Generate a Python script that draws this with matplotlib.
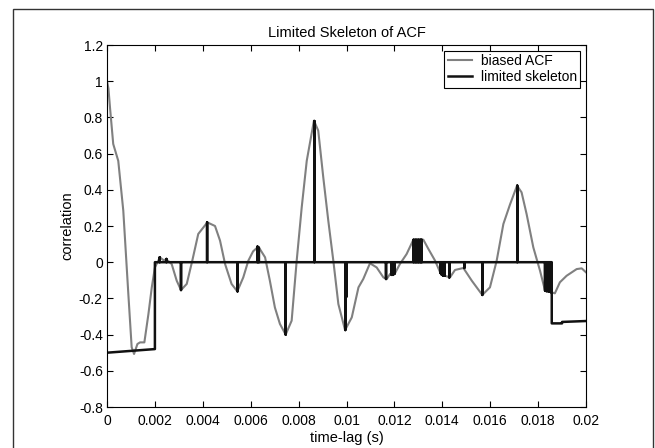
import numpy as np
import matplotlib
matplotlib.use("Agg")
from matplotlib import pyplot as plt
from matplotlib.patches import Rectangle
from matplotlib.ticker import FuncFormatter

plt.rcParams['font.family'] = ['Liberation Sans', 'DejaVu Sans']

# biased ACF
acf_lag = [0.0, 0.00006, 0.000125, 0.00026, 0.00047, 0.00068, 0.00089, 0.00103, 0.00113,
           0.00127, 0.00138, 0.00156, 0.00173, 0.00187, 0.0020, 0.00221, 0.00235, 0.00249,
           0.0027, 0.00291, 0.00309, 0.00333, 0.00356, 0.00381, 0.00419, 0.00451, 0.00472,
           0.00493, 0.0052, 0.00544, 0.00569, 0.0059, 0.0061, 0.00632, 0.0066, 0.0068,
           0.00701, 0.00722, 0.00746, 0.00771, 0.00792, 0.00813, 0.00834, 0.00864, 0.00882,
           0.00903, 0.00924, 0.00945, 0.00966, 0.00994, 0.01022, 0.0105, 0.0107, 0.01098,
           0.01126, 0.01154, 0.01168, 0.01182, 0.01196, 0.01203, 0.01223, 0.01251, 0.01279,
           0.01321, 0.01342, 0.0137, 0.01391, 0.01411, 0.01432, 0.01453, 0.01488, 0.01523,
           0.01567, 0.01599, 0.01627, 0.01655, 0.01683, 0.01712, 0.01731, 0.01752, 0.0178,
           0.01808, 0.01829, 0.01857, 0.0187, 0.01891, 0.01919, 0.01961, 0.01982, 0.02]
acf_val = [1.0, 0.96, 0.855, 0.653, 0.56, 0.285, -0.174, -0.47, -0.507,
           -0.452, -0.443, -0.443, -0.286, -0.139, -0.029, 0.027, 0.012, 0.014,
           -0.01, -0.102, -0.154, -0.12, 0.008, 0.156, 0.22, 0.2, 0.119,
           -0.01, -0.12, -0.161, -0.084, 0.008, 0.06, 0.086, 0.027, -0.102,
           -0.25, -0.341, -0.4, -0.323, 0.008, 0.303, 0.56, 0.782, 0.727,
           0.469, 0.229, 0.008, -0.231, -0.375, -0.305, -0.139, -0.093, -0.006,
           -0.029, -0.084, -0.093, -0.065, -0.06, -0.06, -0.01, 0.045, 0.124,
           0.124, 0.073, 0.008, -0.056, -0.075, -0.084, -0.043, -0.032, -0.102,
           -0.181, -0.139, 0.008, 0.211, 0.32, 0.423, 0.386, 0.266, 0.082,
           -0.047, -0.157, -0.167, -0.172, -0.111, -0.075, -0.038, -0.034, -0.056]

# limited skeleton: flat start, spikes from zero, flat tail
skel_start_lag = [0.0, 0.002]
skel_start_val = [-0.5, -0.48]
spike_lag = [0.0022, 0.00248, 0.00309, 0.00418, 0.00545, 0.00628, 0.00634, 0.00746,
             0.00866, 0.00995, 0.0100, 0.01165, 0.01188, 0.01194, 0.0120,
             0.0128, 0.01287, 0.01294, 0.01301, 0.01308, 0.01314,
             0.01392, 0.01398, 0.01404, 0.0141, 0.01429, 0.01492, 0.01567, 0.01713,
             0.01829, 0.01835, 0.01841, 0.01847, 0.01853]
spike_val = [0.027, 0.018, -0.154, 0.22, -0.161, 0.086, 0.08, -0.40,
             0.78, -0.375, -0.19, -0.093, -0.07, -0.07, -0.065,
             0.124, 0.124, 0.124, 0.124, 0.124, 0.124,
             -0.06, -0.07, -0.075, -0.075, -0.084, -0.032, -0.181, 0.423,
             -0.157, -0.16, -0.16, -0.162, -0.165]
skel_end_lag = [0.01857, 0.0190, 0.0190, 0.02]
skel_end_val = [-0.338, -0.338, -0.33, -0.325]

x_ticks = [0, 0.002, 0.004, 0.006, 0.008, 0.01, 0.012, 0.014, 0.016, 0.018, 0.02]
y_ticks = [-0.8, -0.6, -0.4, -0.2, 0, 0.2, 0.4, 0.6, 0.8, 1, 1.2]


def build_skeleton():
    t = list(skel_start_lag) + [skel_start_lag[-1]]
    v = list(skel_start_val) + [0.0]
    for lag, val in zip(spike_lag, spike_val):
        t += [lag, lag, lag]
        v += [0.0, val, 0.0]
    t += [skel_end_lag[0]] + skel_end_lag
    v += [0.0] + skel_end_val
    return t, v


fig = plt.figure(figsize=(6.55, 4.48), dpi=100)
ax = fig.add_axes([107 / 655, 1 - 407 / 448, 479 / 655, 362 / 448])

skel_t, skel_v = build_skeleton()
ax.plot(acf_lag, acf_val, color='#808080', lw=1.5, label='biased ACF')
ax.plot(skel_t, skel_v, color='#111111', lw=1.8, label='limited skeleton')

ax.set_xlim(0, 0.02)
ax.set_ylim(-0.8, 1.2)
ax.set_xticks(x_ticks)
ax.set_yticks(y_ticks)
fmt = FuncFormatter(lambda val, pos: '%g' % val)
ax.xaxis.set_major_formatter(fmt)
ax.yaxis.set_major_formatter(fmt)
ax.tick_params(direction='in', length=4, top=True, right=True, labelsize=10, width=0.8, pad=3)
ax.tick_params(axis='x', pad=5)
for s in ax.spines.values():
    s.set_linewidth(0.8)

ax.set_title('Limited Skeleton of ACF', fontsize=10.5, pad=6)
ax.set_xlabel('time-lag (s)', fontsize=10.5, labelpad=2)
ax.set_ylabel('correlation', fontsize=10.5, labelpad=3)

leg = ax.legend(loc='upper right', fontsize=10, fancybox=False, framealpha=1,
                edgecolor='black', handlelength=1.75, borderaxespad=0.4,
                borderpad=0.25, labelspacing=0.15, handletextpad=0.65)
leg.get_frame().set_linewidth(0.8)

# outer frame round the figure
fig.patches.append(Rectangle((13 / 655, -0.1), 640 / 655, 1.1 - 9.5 / 448,
                             transform=fig.transFigure, fill=False,
                             edgecolor='#333333', lw=1))

fig.savefig('out.png', dpi=100)
